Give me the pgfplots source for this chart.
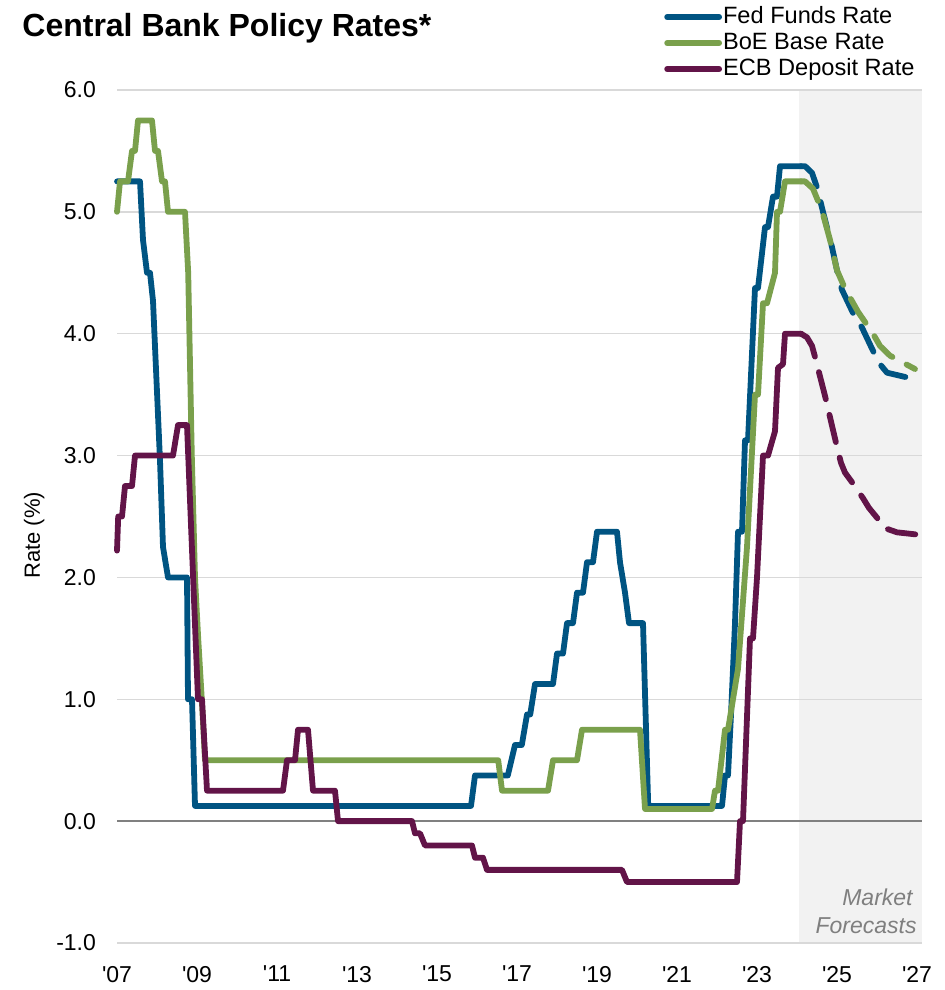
\documentclass[border=0pt]{standalone}
\usepackage{fontspec}
\setmainfont{Liberation Sans}
\usepackage{pgfplots}
\usepackage{pgfplotstable}
\pgfplotsset{compat=1.18}
\definecolor{fedblue}{HTML}{005482}
\definecolor{boegreen}{HTML}{7AA04C}
\definecolor{ecbpurple}{HTML}{621448}
\definecolor{shadegray}{HTML}{F2F2F2}
\definecolor{gridgray}{HTML}{D9D9D9}
\definecolor{zerogray}{HTML}{808080}
\definecolor{fcgray}{HTML}{7F7F7F}

\pgfplotstableread{
x y
2007.0 5.25
2007.575 5.25
2007.65 4.77
2007.75 4.5
2007.825 4.5
2007.9 4.27
2008.075 2.96
2008.15 2.25
2008.275 2.0
2008.75 2.0
2008.775 1.0
2008.875 1.0
2008.95 0.125
2015.85 0.125
2015.95 0.375
2016.77 0.375
2016.95 0.625
2017.12 0.625
2017.25 0.875
2017.33 0.875
2017.45 1.125
2017.9 1.125
2018.0 1.375
2018.15 1.375
2018.25 1.625
2018.4 1.625
2018.5 1.875
2018.65 1.875
2018.75 2.125
2018.9 2.125
2019.0 2.375
2019.5 2.375
2019.575 2.125
2019.7 1.875
2019.8 1.625
2020.15 1.625
2020.28 0.125
2022.125 0.125
2022.2 0.375
2022.275 0.375
2022.35 0.875
2022.45 1.625
2022.525 2.375
2022.625 2.375
2022.7 3.125
2022.775 3.125
2022.95 4.375
2023.025 4.375
2023.2 4.875
2023.275 4.875
2023.4 5.125
2023.5 5.125
2023.575 5.375
2024.1 5.375
}\fedsolid

\pgfplotstableread{
x y
2024.1 5.375
2024.2 5.375
2024.375 5.32
2024.5 5.2
2024.65 5.0
2024.875 4.71
2025.0 4.52
2025.125 4.36
2025.4 4.17
2025.625 4.05
2025.9 3.86
2026.05 3.76
2026.25 3.68
2026.9 3.63
}\fedfc

\pgfplotstableread{
x y
2007.0 5.0
2007.075 5.25
2007.275 5.25
2007.375 5.5
2007.45 5.5
2007.525 5.75
2007.875 5.75
2007.95 5.5
2008.025 5.5
2008.125 5.25
2008.2 5.25
2008.275 5.0
2008.7 5.0
2008.78 4.5
2008.87 3.0
2008.95 2.0
2009.03 1.5
2009.12 1.0
2009.2 0.5
2016.53 0.5
2016.625 0.25
2017.775 0.25
2017.9 0.5
2018.5 0.5
2018.625 0.75
2020.075 0.75
2020.2 0.1
2021.875 0.1
2021.95 0.25
2022.025 0.25
2022.2 0.75
2022.275 0.75
2022.525 1.25
2022.75 2.25
2022.95 3.5
2023.025 3.5
2023.15 4.25
2023.25 4.25
2023.45 4.5
2023.5 5.0
2023.575 5.0
2023.7 5.25
2024.1 5.25
}\boesolid

\pgfplotstableread{
x y
2024.1 5.25
2024.2 5.25
2024.4 5.19
2024.625 5.01
2024.825 4.77
2025.0 4.52
2025.2 4.37
2025.525 4.18
2025.9 4.0
2026.075 3.9
2026.325 3.82
2026.95 3.71
}\boefc

\pgfplotstableread{
x y
2007.0 2.22
2007.03 2.5
2007.125 2.5
2007.2 2.75
2007.375 2.75
2007.45 3.0
2008.4 3.0
2008.525 3.25
2008.75 3.25
2009.025 1.0
2009.125 1.0
2009.25 0.25
2011.15 0.25
2011.25 0.5
2011.45 0.5
2011.525 0.75
2011.775 0.75
2011.9 0.25
2012.45 0.25
2012.525 0.0
2014.375 0.0
2014.45 -0.1
2014.575 -0.1
2014.7 -0.2
2015.875 -0.2
2015.95 -0.3
2016.15 -0.3
2016.25 -0.4
2019.625 -0.4
2019.75 -0.5
2022.5 -0.5
2022.575 0.0
2022.65 0.0
2022.825 1.5
2022.9 1.5
2023.0 2.0
2023.15 3.0
2023.275 3.0
2023.45 3.2
2023.525 3.72
2023.65 3.75
2023.7 4.0
2024.1 4.0
}\ecbsolid

\pgfplotstableread{
x y
2024.1 4.0
2024.25 3.97
2024.375 3.9
2024.45 3.81
2024.7 3.49
2025.0 3.07
2025.1 2.94
2025.2 2.86
2025.4 2.77
2025.65 2.65
2025.8 2.57
2026.0 2.49
2026.15 2.41
2026.5 2.37
2027.05 2.35
}\ecbfc

\begin{document}
\begin{tikzpicture}
\begin{axis}[
  set layers=standard,
  at={(58.5pt,23.5pt)}, anchor=south west,
  scale only axis, width=402.5pt, height=426.5pt,
  xmin=2007, xmax=2027.125, ymin=-1, ymax=6,
  clip=false,
  axis line style={draw=none},
  major tick length=0pt,
  xtick={2007,2009,...,2027},
  xticklabels={{\textquotesingle 07},{\textquotesingle 09},{\textquotesingle 11},{\textquotesingle 13},{\textquotesingle 15},{\textquotesingle 17},{\textquotesingle 19},{\textquotesingle 21},{\textquotesingle 23},{\textquotesingle 25},{\textquotesingle 27}},
  ytick={-1,0,...,6},
  ymajorgrids,
  grid style={gridgray, line width=0.75pt},
  extra y ticks={0},
  extra y tick labels={},
  extra y tick style={grid style={zerogray, line width=0.75pt}},
  yticklabel style={/pgf/number format/fixed, /pgf/number format/fixed zerofill, /pgf/number format/precision=1, /pgf/number format/assume math mode=true, xshift=-7pt},
  ticklabel style={font=\fontsize{11.5}{13}\selectfont},
  xticklabel style={yshift=-8pt},
  ylabel={Rate (\%)},
  ylabel style={at={(axis description cs:-0.103,0.478)}, anchor=center, font=\fontsize{11}{13}\selectfont},
  legend style={at={(axis description cs:0.6793,1.100)}, anchor=north west, draw=none, fill=none,
    inner sep=0pt, font=\fontsize{11.8}{13}\selectfont,
    nodes={inner sep=0.5pt, text height=8.5pt, text depth=2.5pt}, row sep=1pt},
  legend cell align=left,
  legend image code/.code={\draw[#1, line cap=round] (0pt,0pt) -- (26pt,0pt);},
  every axis plot/.append style={line width=2.9pt, line join=round, line cap=round},
]
\addplot[fill=shadegray, draw=none, line width=0pt, on layer=axis background, forget plot]
  coordinates {(2024.05,-1) (2027.125,-1) (2027.125,6) (2024.05,6)} -- cycle;
\addplot[fedblue] table[x=x,y=y] {\fedsolid};
\addlegendentry{Fed Funds Rate}
\addplot[boegreen] table[x=x,y=y] {\boesolid};
\addlegendentry{BoE Base Rate}
\addplot[ecbpurple] table[x=x,y=y] {\ecbsolid};
\addlegendentry{ECB Deposit Rate}
\addplot[fedblue, dash pattern=on 14pt off 8pt, forget plot] table[x=x,y=y] {\fedfc};
\addplot[boegreen, dash pattern=on 14pt off 8pt, forget plot] table[x=x,y=y] {\boefc};
\addplot[ecbpurple, dash pattern=on 14pt off 8pt, forget plot] table[x=x,y=y] {\ecbfc};
\node[anchor=base east, inner sep=0pt, text=fcgray, font=\fontsize{11.5}{13}\selectfont\itshape] at (axis cs:2026.9,-0.69) {Market};
\node[anchor=base east, inner sep=0pt, text=fcgray, font=\fontsize{11.5}{13}\selectfont\itshape] at (axis cs:2027.0,-0.92) {Forecasts};
\end{axis}
\node[anchor=base west, inner sep=0pt, font=\fontsize{16}{19}\selectfont\bfseries] at (11pt,476.5pt) {Central Bank Policy Rates*};
\pgfresetboundingbox
\path[use as bounding box] (0pt,0pt) rectangle (472.5pt,495pt);
\end{tikzpicture}
\end{document}
